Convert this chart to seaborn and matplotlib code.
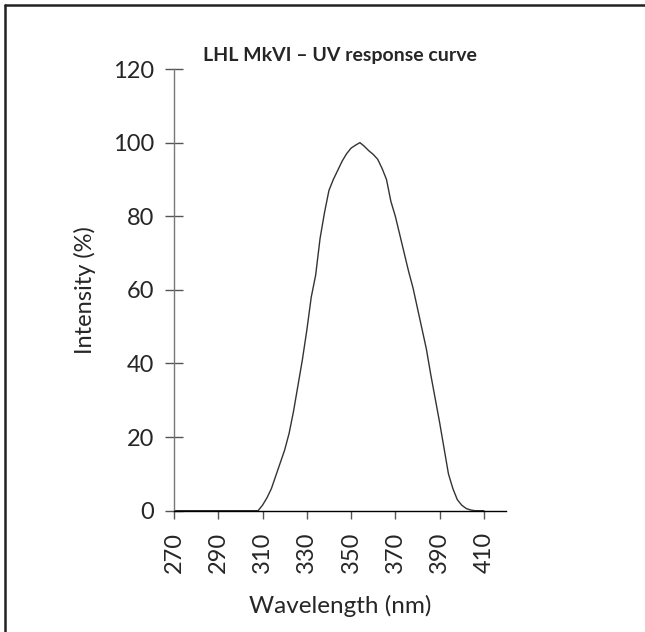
import numpy as np
import pandas as pd
import matplotlib
matplotlib.use('Agg')
import matplotlib.pyplot as plt
from matplotlib.lines import Line2D
import seaborn as sns

longitud = [270, 280, 290, 300, 305, 308, 310, 312, 314, 316, 318, 320, 322, 324,
            326, 328, 330, 332, 334, 336, 338, 340, 342, 344, 346, 348, 350, 352,
            354, 356, 358, 360, 362, 364, 366, 368, 370, 372, 374, 376, 378, 380,
            382, 384, 386, 388, 390, 392, 394, 396, 398, 400, 402, 404, 406, 408, 410]
intensidad = [0, 0, 0, 0, 0, 0, 1.5, 3.5, 6, 9.5, 13, 16.5, 21, 27,
              34, 41, 49, 58, 64, 74, 81, 87, 90, 92.5, 95, 97, 98.5, 99.3,
              100, 99, 97.8, 96.8, 95.5, 93, 90, 84, 80, 75, 70, 65, 60.5, 55,
              49.5, 44, 37, 30.5, 24, 17, 10, 6, 3, 1.5, 0.6, 0.2, 0, 0, 0]
ticksX = [270, 290, 310, 330, 350, 370, 390, 410]
ticksY = [0, 20, 40, 60, 80, 100, 120]

datos = pd.DataFrame({'nm': longitud, 'I': intensidad})

sns.set_style('white')
plt.rcParams['font.family'] = ['Lato', 'DejaVu Sans']

fig = plt.figure(figsize=(6.45, 6.32), dpi=100)
ax = fig.add_axes([174/645, 1-510.7/632, (506-174)/645, (510.7-69)/632])

sns.lineplot(data=datos, x='nm', y='I', ax=ax, color='#333333', lw=1.0)

ax.set_xlim(270, 420)
ax.set_ylim(0, 120)
ax.set_xticks(ticksX)
ax.set_yticks(ticksY)
ax.set_xticklabels([str(t) for t in ticksX], rotation=90)

for lado in ['top', 'right']:
    ax.spines[lado].set_visible(False)
ax.spines['left'].set_color('#777777')
ax.spines['left'].set_linewidth(1.0)
ax.spines['bottom'].set_color('black')
ax.spines['bottom'].set_linewidth(1.0)

ax.tick_params(axis='y', direction='inout', length=13, width=1, color='#555555',
               labelsize=17, pad=8, left=True)
ax.tick_params(axis='x', direction='out', length=6, width=1, color='#555555',
               labelsize=17, pad=9, bottom=True)

ax.set_xlabel('Wavelength (nm)', fontsize=17.5, labelpad=16)
ax.set_ylabel('Intensity (%)', fontsize=17, labelpad=12)
ax.set_title('LHL MkVI – UV response curve', fontsize=14, fontweight='bold', pad=6)

# marco superior e izquierdo
fig.add_artist(Line2D([4.5/645, 1], [1-4.5/632, 1-4.5/632], transform=fig.transFigure,
                      color='#222222', lw=1.8))
fig.add_artist(Line2D([4.5/645, 4.5/645], [0, 1-4.5/632], transform=fig.transFigure,
                      color='#222222', lw=1.8))

fig.savefig('out.png', dpi=100)
